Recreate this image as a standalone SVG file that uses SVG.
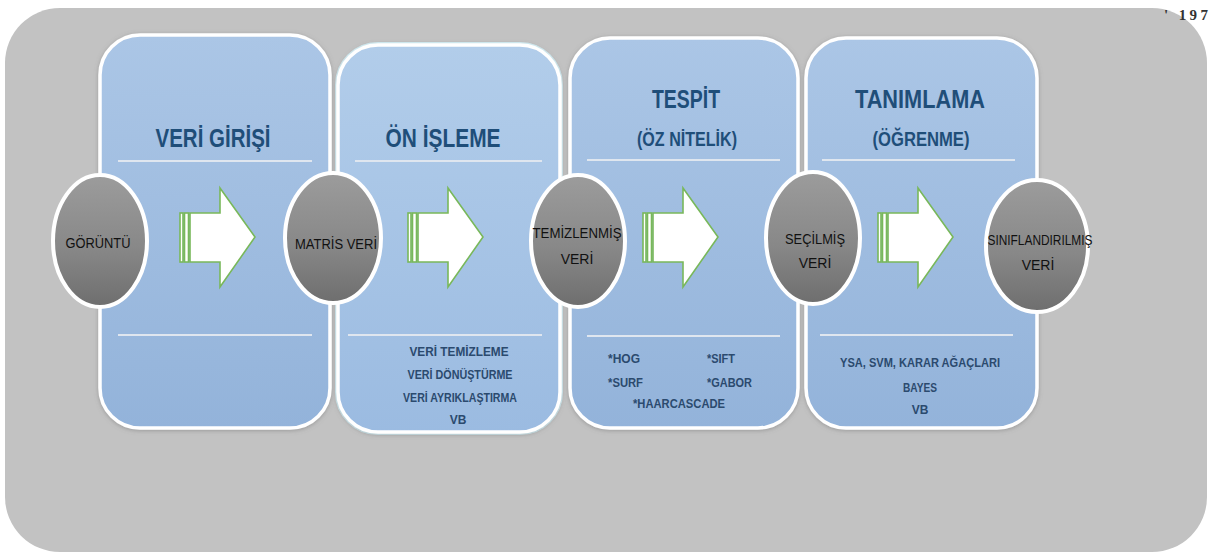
<svg xmlns="http://www.w3.org/2000/svg" width="1211" height="556" viewBox="0 0 1211 556">
<style>
.panel{stroke:#ffffff;stroke-width:3.5;filter:url(#sh)}
.sep{stroke:#dfe6ef;stroke-width:2}
.title{font-family:"Liberation Sans Narrow","Liberation Sans",sans-serif;font-weight:bold;fill:#1f4e79;text-anchor:middle}
.body{font-family:"Liberation Sans Narrow","Liberation Sans",sans-serif;font-size:12px;font-weight:bold;fill:#2b4a6e}
.mid{text-anchor:middle}
.node{fill:url(#cg);stroke:#ffffff;stroke-width:4}
.ntext{font-family:"Liberation Sans Narrow","Liberation Sans",sans-serif;font-size:14px;fill:#111111;text-anchor:middle}
.arr{fill:#ffffff;stroke:#79b85a;stroke-width:1.6}
</style>
<defs>
<linearGradient id="pg" x1="0" y1="0" x2="0" y2="1"><stop offset="0" stop-color="#abc6e6"/><stop offset="1" stop-color="#93b3da"/></linearGradient>
<linearGradient id="pg2" x1="0" y1="0" x2="0" y2="1"><stop offset="0" stop-color="#b2cdea"/><stop offset="1" stop-color="#9bbbe1"/></linearGradient>
<linearGradient id="cg" x1="0" y1="0" x2="0" y2="1"><stop offset="0" stop-color="#9c9c9c"/><stop offset="0.55" stop-color="#888888"/><stop offset="1" stop-color="#6e6e6e"/></linearGradient>
<filter id="sh" x="-10%" y="-10%" width="120%" height="120%"><feDropShadow dx="0" dy="1" stdDeviation="2" flood-color="#707070" flood-opacity="0.5"/></filter>
<g id="arrowShape">
<rect class="arr" x="180" y="213" width="3" height="49"/>
<rect class="arr" x="184.5" y="213" width="4" height="49"/>
<path class="arr" d="M190,213 H220 V188 L255,237 L220,287 V262 H190 Z"/>
</g>
</defs>
<rect x="0" y="0" width="1211" height="556" fill="#ffffff"/>
<rect x="5" y="8" width="1202" height="544" rx="55" fill="#c2c2c2"/>
<text x="1164" y="20" font-family="Liberation Serif,serif" font-weight="bold" font-size="15" fill="#333333" textLength="44" lengthAdjust="spacing">' 197</text>

<g id="panel1">
<rect class="panel" x="100" y="35" width="230" height="393" rx="40" fill="url(#pg)"/>
<text class="title" x="213" y="147" font-size="25" textLength="115" lengthAdjust="spacingAndGlyphs">VERİ GİRİŞİ</text>
<line class="sep" x1="118" y1="161" x2="312" y2="161"/>
<line class="sep" x1="118" y1="335" x2="312" y2="335"/>
</g>
<g id="panel2">
<rect x="338" y="45" width="222" height="387" rx="40" fill="none" stroke="#d8f4fb" stroke-width="6"/>
<rect class="panel" x="338" y="45" width="222" height="387" rx="40" fill="url(#pg2)"/>
<text class="title" x="443" y="147" font-size="25" textLength="115" lengthAdjust="spacingAndGlyphs">ÖN İŞLEME</text>
<line class="sep" x1="355" y1="161" x2="542" y2="161"/>
<line class="sep" x1="348" y1="335" x2="542" y2="335"/>
<text class="body mid" x="459" y="356" textLength="99" lengthAdjust="spacingAndGlyphs">VERİ TEMİZLEME</text>
<text class="body mid" x="460" y="379" textLength="105" lengthAdjust="spacingAndGlyphs">VERİ DÖNÜŞTÜRME</text>
<text class="body mid" x="460" y="402" textLength="114" lengthAdjust="spacingAndGlyphs">VERİ AYRIKLAŞTIRMA</text>
<text class="body mid" x="458" y="424">VB</text>
</g>
<g id="panel3">
<rect class="panel" x="570" y="38" width="228" height="390" rx="40" fill="url(#pg)"/>
<text class="title" x="686" y="108" font-size="25" textLength="68" lengthAdjust="spacingAndGlyphs">TESPİT</text>
<text class="title" x="687" y="146" font-size="21" textLength="100" lengthAdjust="spacingAndGlyphs">(ÖZ NİTELİK)</text>
<line class="sep" x1="587" y1="160" x2="780" y2="160"/>
<line class="sep" x1="587" y1="336" x2="780" y2="336"/>
<text class="body" x="608" y="363" textLength="32" lengthAdjust="spacingAndGlyphs">*HOG</text>
<text class="body" x="707" y="363" textLength="28" lengthAdjust="spacingAndGlyphs">*SIFT</text>
<text class="body" x="608" y="387" textLength="35" lengthAdjust="spacingAndGlyphs">*SURF</text>
<text class="body" x="707" y="387" textLength="45" lengthAdjust="spacingAndGlyphs">*GABOR</text>
<text class="body" x="633" y="408" textLength="92" lengthAdjust="spacingAndGlyphs">*HAARCASCADE</text>
</g>
<g id="panel4">
<rect class="panel" x="806" y="38" width="231" height="390" rx="40" fill="url(#pg)"/>
<text class="title" x="920" y="108" font-size="25" textLength="130" lengthAdjust="spacingAndGlyphs">TANIMLAMA</text>
<text class="title" x="921" y="146" font-size="21" textLength="97" lengthAdjust="spacingAndGlyphs">(ÖĞRENME)</text>
<line class="sep" x1="822" y1="160" x2="1015" y2="160"/>
<line class="sep" x1="820" y1="335" x2="1013" y2="335"/>
<text class="body mid" x="920" y="367" textLength="160" lengthAdjust="spacingAndGlyphs">YSA, SVM, KARAR AĞAÇLARI</text>
<text class="body mid" x="920" y="392" textLength="34" lengthAdjust="spacingAndGlyphs">BAYES</text>
<text class="body mid" x="920" y="414">VB</text>
</g>

<g id="connectors">
<use href="#arrowShape"/>
<use href="#arrowShape" transform="translate(228,0)"/>
<use href="#arrowShape" transform="translate(463,0)"/>
<use href="#arrowShape" transform="translate(698,0)"/>
</g>

<g id="node-goruntu">
<ellipse class="node" cx="100" cy="241" rx="47" ry="66"/>
<text class="ntext" x="98" y="248" textLength="65" lengthAdjust="spacingAndGlyphs">GÖRÜNTÜ</text>
</g>
<g id="node-matris">
<ellipse class="node" cx="333" cy="238" rx="48" ry="65"/>
<text class="ntext" x="336" y="249" textLength="82" lengthAdjust="spacingAndGlyphs">MATRİS VERİ</text>
</g>
<g id="node-temiz">
<ellipse class="node" cx="578" cy="241" rx="47" ry="66"/>
<text class="ntext" x="577" y="238" textLength="89" lengthAdjust="spacingAndGlyphs">TEMİZLENMİŞ</text>
<text class="ntext" x="577" y="264">VERİ</text>
</g>
<g id="node-secilmis">
<ellipse class="node" cx="813" cy="238" rx="47" ry="66"/>
<text class="ntext" x="815" y="244" textLength="60" lengthAdjust="spacingAndGlyphs">SEÇİLMİŞ</text>
<text class="ntext" x="815" y="268">VERİ</text>
</g>
<g id="node-sinif">
<ellipse class="node" cx="1037" cy="246" rx="51" ry="66"/>
<text class="ntext" x="1040" y="245" textLength="105" lengthAdjust="spacingAndGlyphs">SINIFLANDIRILMIŞ</text>
<text class="ntext" x="1038" y="270">VERİ</text>
</g>
</svg>
